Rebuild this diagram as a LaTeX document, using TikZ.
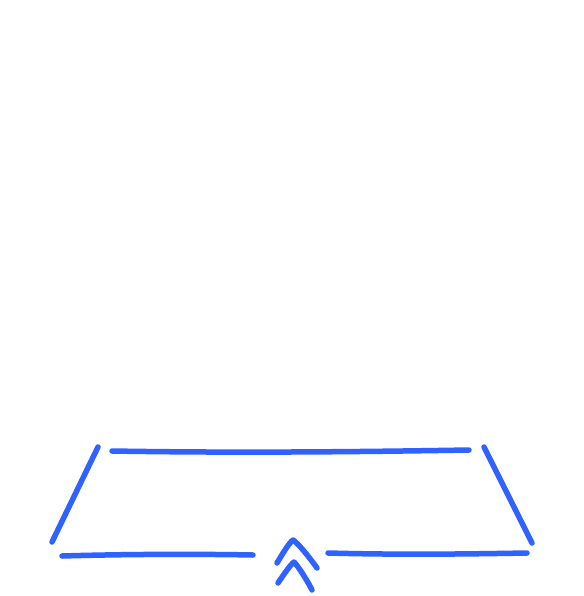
\documentclass[tikz,border=0pt]{standalone}
\definecolor{penblue}{RGB}{47,98,255}
\begin{document}
\begin{tikzpicture}[x=1pt,y=-1pt,
  stroke/.style={draw=penblue,line width=5.5pt,line cap=round,line join=round}]
\useasboundingbox (0,0) rectangle (583,596);
% frame
\draw[stroke] (112,451) .. controls (230,453) and (350,452) .. (469,450);
\draw[stroke] (98,447) -- (52,542);
\draw[stroke] (484,447) -- (532,543);
\draw[stroke] (62,556) .. controls (130,554) and (200,554) .. (253,555);
\draw[stroke] (328,553) .. controls (400,555) and (470,554) .. (527,553);
% chevrons
\draw[stroke] (277,563) .. controls (283,553) and (289,543) .. (293,540) .. controls (297,542) and (310,558) .. (317,568);
\draw[stroke] (278,583) .. controls (284,574) and (291,564) .. (294,562) .. controls (298,566) and (307,580) .. (312,590);
\end{tikzpicture}
\end{document}
